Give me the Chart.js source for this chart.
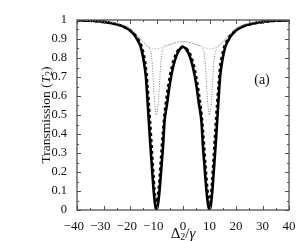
<!DOCTYPE html>
<html>
<head>
<meta charset="utf-8">
<script src="https://cdn.jsdelivr.net/npm/chart.js@4"></script>
<style>
  html, body { margin: 0; padding: 0; background: #fff; }
  canvas { display: block; }
</style>
</head>
<body>
<canvas id="grafico" width="299" height="242"></canvas>
<script>
// detuning grid (Delta_2 / gamma)
const detuning = [-40, -35, -30, -27, -24, -22, -20, -18, -17, -16, -15, -14, -13.5, -13, -12.5, -12, -11.5, -11, -10.5, -10,
  -9.5, -9, -8.5, -8, -7.5, -7, -6, -5, -4, -3, -2, -1, 0,
  1, 2, 3, 4, 5, 6, 7, 7.5, 8, 8.5, 9, 9.5,
  10, 10.5, 11, 11.5, 12, 12.5, 13, 13.5, 14, 15, 16, 17, 18, 20, 22, 24, 27, 30, 35, 40];

// thick solid curve
const transSolid = [0.999, 0.996, 0.99, 0.983, 0.973, 0.962, 0.945, 0.915, 0.89, 0.86, 0.8, 0.7, 0.6, 0.49, 0.38, 0.28, 0.18, 0.09, 0.025, 0.0,
  0.025, 0.08, 0.16, 0.25, 0.34, 0.46, 0.56, 0.66, 0.735, 0.79, 0.828, 0.85, 0.858,
  0.85, 0.828, 0.79, 0.735, 0.66, 0.56, 0.46, 0.34, 0.25, 0.16, 0.08, 0.025,
  0.0, 0.025, 0.09, 0.18, 0.28, 0.38, 0.49, 0.6, 0.7, 0.8, 0.86, 0.89, 0.915, 0.945, 0.962, 0.973, 0.983, 0.99, 0.996, 0.999];

// thick dashed curve
const transDashed = [0.999, 0.996, 0.99, 0.983, 0.973, 0.962, 0.946, 0.92, 0.9, 0.875, 0.83, 0.75, 0.67, 0.58, 0.48, 0.37, 0.26, 0.15, 0.07, 0.04,
  0.07, 0.14, 0.23, 0.33, 0.42, 0.5, 0.61, 0.7, 0.765, 0.81, 0.838, 0.853, 0.86,
  0.853, 0.838, 0.81, 0.765, 0.7, 0.61, 0.5, 0.42, 0.33, 0.23, 0.14, 0.07,
  0.04, 0.07, 0.15, 0.26, 0.37, 0.48, 0.58, 0.67, 0.75, 0.83, 0.875, 0.9, 0.92, 0.946, 0.962, 0.973, 0.983, 0.99, 0.996, 0.999];

// thin dotted curve (narrow dips down to 0.5)
const transHalf = [0.999, 0.997, 0.994, 0.989, 0.98, 0.97, 0.956, 0.932, 0.916, 0.9, 0.884, 0.87, 0.864, 0.859, 0.845, 0.82, 0.75, 0.63, 0.54, 0.5,
  0.54, 0.63, 0.75, 0.82, 0.85, 0.861, 0.866, 0.871, 0.876, 0.88, 0.883, 0.885, 0.886,
  0.885, 0.883, 0.88, 0.876, 0.871, 0.866, 0.861, 0.85, 0.82, 0.75, 0.63, 0.54,
  0.5, 0.54, 0.63, 0.75, 0.82, 0.845, 0.859, 0.864, 0.87, 0.884, 0.9, 0.916, 0.932, 0.956, 0.97, 0.98, 0.989, 0.994, 0.997, 0.999];

// light dotted curve (shallow dips)
const transWeak = [0.999, 0.997, 0.994, 0.989, 0.98, 0.97, 0.956, 0.932, 0.916, 0.9, 0.884, 0.87, 0.864, 0.859, 0.855, 0.852, 0.85, 0.849, 0.848, 0.848,
  0.849, 0.851, 0.853, 0.855, 0.858, 0.861, 0.866, 0.871, 0.876, 0.88, 0.883, 0.885, 0.886,
  0.885, 0.883, 0.88, 0.876, 0.871, 0.866, 0.861, 0.858, 0.855, 0.853, 0.851, 0.849,
  0.848, 0.848, 0.849, 0.85, 0.852, 0.855, 0.859, 0.864, 0.87, 0.884, 0.9, 0.916, 0.932, 0.956, 0.97, 0.98, 0.989, 0.994, 0.997, 0.999];

const xTicks = [-40, -30, -20, -10, 0, 10, 20, 30, 40];
const yTicks = [0, 0.1, 0.2, 0.3, 0.4, 0.5, 0.6, 0.7, 0.8, 0.9, 1];

const serif = '"Liberation Serif", "DejaVu Serif", serif';

function pontos(ys) {
  return detuning.map((x, i) => ({ x: x, y: ys[i] }));
}

// box + inward ticks + axis titles
const moldura = {
  id: 'moldura',
  afterDraw(chart) {
    const { ctx, chartArea: a, scales } = chart;
    const sx = scales.x, sy = scales.y;
    ctx.save();
    ctx.strokeStyle = '#555';
    ctx.lineWidth = 1;
    ctx.beginPath();
    for (let v = -40; v <= 40; v += 5) {
      const px = Math.round(sx.getPixelForValue(v)) + 0.5;
      const len = v % 10 === 0 ? 4 : 2;
      ctx.moveTo(px, a.bottom); ctx.lineTo(px, a.bottom - len);
      ctx.moveTo(px, a.top); ctx.lineTo(px, a.top + len);
    }
    for (let k = 0; k <= 20; k++) {
      const py = Math.round(sy.getPixelForValue(k * 0.05)) + 0.5;
      const len = k % 2 === 0 ? 4 : 2;
      ctx.moveTo(a.left, py); ctx.lineTo(a.left + len, py);
      ctx.moveTo(a.right, py); ctx.lineTo(a.right - len, py);
    }
    ctx.stroke();
    ctx.strokeStyle = '#444';
    ctx.lineWidth = 1.2;
    ctx.strokeRect(a.left, a.top, a.right - a.left, a.bottom - a.top);

    ctx.fillStyle = '#111';
    ctx.textBaseline = 'middle';

    // y title: Transmission (T2)
    ctx.save();
    ctx.translate(46, (a.top + a.bottom) / 2);
    ctx.rotate(-Math.PI / 2);
    const partes = [
      { t: 'Transmission (', f: '13.5px ' + serif, dy: 0 },
      { t: 'T', f: 'italic 13.5px ' + serif, dy: 0 },
      { t: '2', f: '9.5px ' + serif, dy: 3 },
      { t: ')', f: '13.5px ' + serif, dy: 0 }
    ];
    let total = 0;
    partes.forEach(p => { ctx.font = p.f; total += ctx.measureText(p.t).width; });
    let cx = -total / 2;
    ctx.textAlign = 'left';
    partes.forEach(p => { ctx.font = p.f; ctx.fillText(p.t, cx, p.dy); cx += ctx.measureText(p.t).width; });
    ctx.restore();

    // x title: Delta_2 / gamma
    const partesX = [
      { t: 'Δ', f: '15px ' + serif, dy: 0 },
      { t: '2', f: '10px ' + serif, dy: 3 },
      { t: '/', f: '15px ' + serif, dy: 0 },
      { t: 'γ', f: 'italic 15px ' + serif, dy: 0 }
    ];
    total = 0;
    partesX.forEach(p => { ctx.font = p.f; total += ctx.measureText(p.t).width; });
    cx = (a.left + a.right) / 2 - total / 2;
    ctx.textAlign = 'left';
    partesX.forEach(p => { ctx.font = p.f; ctx.fillText(p.t, cx, 234 + p.dy); cx += ctx.measureText(p.t).width; });

    ctx.font = '14px ' + serif;
    ctx.textAlign = 'center';
    ctx.fillText('(a)', 262, 80);
    ctx.restore();
  }
};

const grafico = new Chart(document.getElementById('grafico').getContext('2d'), {
  type: 'line',
  data: {
    datasets: [
      { data: pontos(transWeak), borderColor: '#a0a0a0', borderWidth: 1, borderDash: [1, 2] },
      { data: pontos(transHalf), borderColor: '#808080', borderWidth: 1, borderDash: [1, 1.5] },
      { data: pontos(transSolid), borderColor: '#000', borderWidth: 2.6 },
      { data: pontos(transDashed), borderColor: '#000', borderWidth: 2.6, borderDash: [3, 3] }
    ]
  },
  options: {
    responsive: false,
    animation: false,
    devicePixelRatio: 1,
    layout: { padding: { top: 20, right: 10, left: 0, bottom: 0 } },
    elements: { point: { radius: 0 }, line: { cubicInterpolationMode: 'monotone', fill: false } },
    plugins: { legend: { display: false }, tooltip: { enabled: false } },
    scales: {
      x: {
        type: 'linear', min: -40, max: 40,
        afterBuildTicks: s => { s.ticks = xTicks.map(v => ({ value: v })); },
        afterFit: s => { s.height = 32; },
        grid: { display: false },
        border: { display: false },
        ticks: {
          padding: 1, color: '#111', maxRotation: 0, autoSkip: false,
          font: { family: serif, size: 13 },
          callback: v => v < 0 ? '−' + Math.abs(v) + '\u2002' : String(v)
        }
      },
      y: {
        min: 0, max: 1,
        afterBuildTicks: s => { s.ticks = yTicks.map(v => ({ value: v })); },
        afterFit: s => { s.width = 77; },
        grid: { display: false },
        border: { display: false },
        ticks: {
          padding: 2, color: '#111', autoSkip: false,
          font: { family: serif, size: 12.5 },
          callback: v => (v === 0 || v === 1) ? String(v) : v.toFixed(1)
        }
      }
    }
  },
  plugins: [moldura]
});
</script>
</body>
</html>
